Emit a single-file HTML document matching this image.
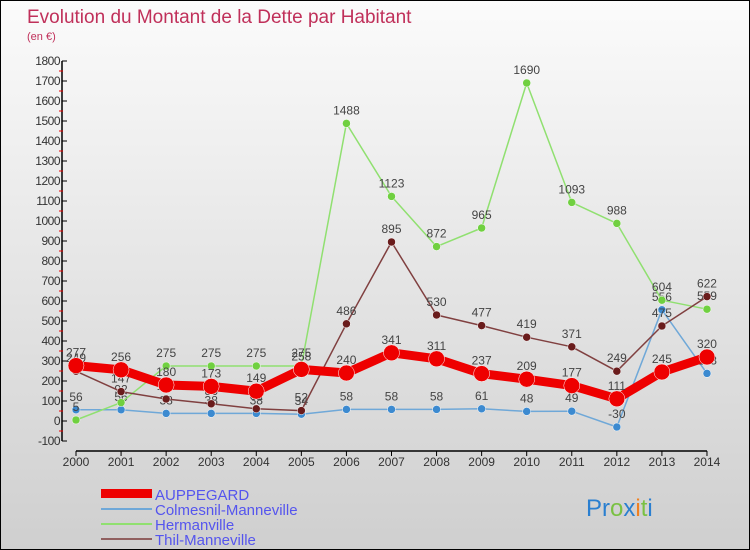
<!DOCTYPE html>
<html><head><meta charset="utf-8"><style>
body{margin:0}
#c{position:relative;width:748px;height:548px;border:1px solid #000;background:linear-gradient(#fbfbfb,#cfcfcf);font-family:"Liberation Sans",sans-serif;overflow:hidden}
</style></head><body>
<div id="c">
<svg id="s" width="748" height="548" xmlns="http://www.w3.org/2000/svg">
<text x="26" y="22" font-size="19" fill="#c0305a">Evolution du Montant de la Dette par Habitant</text>
<text x="26" y="39" font-size="11" fill="#c0305a">(en €)</text>
<g id="g"></g>
<rect x="100" y="488" width="51" height="9" fill="#e00"/>
<rect x="100" y="507" width="51" height="2" fill="#6fa8d8"/>
<rect x="100" y="522" width="51" height="2" fill="#90e070"/>
<rect x="100" y="537" width="51" height="2" fill="#906060"/>
<g font-size="15" fill="#5555ee">
<text x="154" y="499">AUPPEGARD</text>
<text x="154" y="514">Colmesnil-Manneville</text>
<text x="154" y="529">Hermanville</text>
<text x="154" y="544">Thil-Manneville</text>
</g>
<text x="585" y="515" font-size="24"><tspan fill="#2a7fd0">Pr</tspan><tspan fill="#7ac143">o</tspan><tspan fill="#2a7fd0">x</tspan><tspan fill="#f08020">i</tspan><tspan fill="#7ac143">t</tspan><tspan fill="#2a7fd0">i</tspan></text>
</svg></div>
<script>
const years=[2000,2001,2002,2003,2004,2005,2006,2007,2008,2009,2010,2011,2012,2013,2014];
const auppegard=[277,256,180,173,149,258,240,341,311,237,209,177,111,245,320];
const colmesnil=[56,56,38,38,38,34,58,58,58,61,48,49,-30,556,238];
const hermanville=[5,92,275,275,275,275,1488,1123,872,965,1690,1093,988,604,559];
const thil=[249,147,110,86,61,52,486,895,530,477,419,371,249,475,622];
const yTicks=[-100,0,100,200,300,400,500,600,700,800,900,1000,1100,1200,1300,1400,1500,1600,1700,1800];
const NS="http://www.w3.org/2000/svg",g=document.getElementById('g');
const X=i=>75+i*45.07, Y=v=>420-v*0.2;
function mk(t,a,p){const e=document.createElementNS(NS,t);for(const k in a)e.setAttribute(k,a[k]);(p||g).appendChild(e);return e;}
const ax=mk('line',{x1:61,y1:Y(1800),x2:61,y2:Y(-100),stroke:'#000','stroke-width':1.5});


const xa=mk('line',{x1:X(0),y1:450,x2:X(14),y2:450,stroke:'#000','stroke-width':1.5});


yTicks.forEach(v=>{
 mk('line',{x1:61,y1:Y(v),x2:66,y2:Y(v),stroke:'#000'});
 if(v<1800) mk('line',{x1:58,y1:Y(v)-10,x2:62,y2:Y(v)-10,stroke:'#e00'});
 const t=mk('text',{x:59,y:Y(v)+4,'font-size':12,fill:'#333','text-anchor':'end','letter-spacing':'-0.5'});t.textContent=v;
 
 
});
years.forEach((y,i)=>{
 mk('line',{x1:X(i),y1:450,x2:X(i),y2:455,stroke:'#000'});
 const t=mk('text',{x:X(i),y:465,'font-size':12,fill:'#333','text-anchor':'middle'});t.textContent=y;
 
 
});
function series(d,c,w,r,name,dark){
 const l=mk('polyline',{points:d.map((v,i)=>X(i)+','+Y(v)).join(' '),fill:'none',stroke:c,'stroke-width':w,'stroke-linejoin':'round'});
 
 
 d.forEach((v,i)=>{
  const p=mk('circle',{cx:X(i),cy:Y(v),r:r,fill:dark,stroke:'#fff','stroke-width':0.5});
  
  
  const t=mk('text',{x:X(i),y:Y(v)-9,'font-size':12,fill:'#444','text-anchor':'middle'});t.textContent=v;
  
  
 });
}
series(colmesnil,'#6fa8d8',1.5,4,'colmesnil','#3c8ad0');
series(hermanville,'#90e070',1.5,4,'hermanville','#70d040');
series(thil,'#804040',1.5,4,'thil','#6a1c1c');
series(auppegard,'#ee0000',9,8,'auppegard','#ee0000');
</script>
</body></html>
